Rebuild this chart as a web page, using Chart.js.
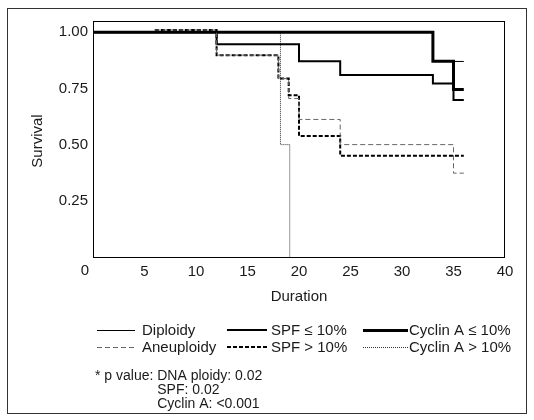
<!DOCTYPE html>
<html><head><meta charset="utf-8">
<script src="https://cdn.jsdelivr.net/npm/chart.js@4"></script>
<style>html,body{margin:0;padding:0;background:#fff}canvas{display:block}</style>
</head><body>
<canvas id="c" width="534" height="420"></canvas>
<script>
// ---- data ----
const xTickValues = [0, 5, 10, 15, 20, 25, 30, 35, 40];
const yTickValues = [0.25, 0.50, 0.75, 1.00];
const xTitle = 'Duration';
const yTitle = 'Survival';

const diploidyTime   = [0, 33, 36];
const diploidySurv   = [1.00, 0.87, 0.87];
const aneuploidyTime = [6, 12, 18, 19, 20, 24, 35, 36];
const aneuploidySurv = [1.01, 0.898, 0.794, 0.705, 0.612, 0.50, 0.373, 0.373];
const spfLowTime     = [0, 12, 20, 24, 33, 35, 36];
const spfLowSurv     = [1.00, 0.947, 0.871, 0.81, 0.772, 0.698, 0.698];
const spfHighTime    = [6, 12, 18, 19, 20, 24, 36];
const spfHighSurv    = [1.01, 0.898, 0.794, 0.72, 0.538, 0.45, 0.45];
const cyclinLowTime  = [0, 33, 35, 36];
const cyclinLowSurv  = [1.00, 0.871, 0.745, 0.745];
const cyclinHighTime = [0, 18.2, 19.1];
const cyclinHighSurv = [1.00, 0.50, 0.00];

const legendLabels = ['Diploidy', 'Aneuploidy', 'SPF ≤ 10%', 'SPF > 10%', 'Cyclin A ≤ 10%', 'Cyclin A > 10%'];
const pValueLines = ['* p value: ', 'DNA ploidy: 0.02', 'SPF: 0.02', 'Cyclin A: <0.001'];

// ---- styles ----
const FONT = "'Liberation Sans', Arial, sans-serif";
const TXT = '#1a1a1a';
const styles = [
  {color:'#000', width:1, dash:[]},          // Diploidy
  {color:'#666', width:1, dash:[5,3]},       // Aneuploidy
  {color:'#000', width:2, dash:[]},          // SPF <=
  {color:'#000', width:2, dash:[4,2]},       // SPF >
  {color:'#000', width:3, dash:[]},          // Cyclin <=
  {color:'#333', width:1, dash:[1,1]}        // Cyclin >
];
const pts = (t, s) => t.map((v, i) => ({x: v, y: s[i]}));
const seriesData = [
  pts(diploidyTime, diploidySurv),
  pts(aneuploidyTime, aneuploidySurv),
  pts(spfLowTime, spfLowSurv),
  pts(spfHighTime, spfHighSurv),
  pts(cyclinLowTime, cyclinLowSurv),
  pts(cyclinHighTime, cyclinHighSurv)
];

const datasets = seriesData.map((d, i) => ({
  label: legendLabels[i],
  data: d,
  stepped: true,
  borderColor: styles[i].color,
  borderWidth: styles[i].width,
  borderDash: styles[i].dash,
  pointRadius: 0,
  fill: false,
  borderCapStyle: 'butt',
  borderJoinStyle: 'miter'
}));

const decor = {
  id: 'decor',
  afterDraw(chart) {
    const ctx = chart.ctx;
    const a = chart.chartArea;
    ctx.save();
    // outer frame
    ctx.strokeStyle = '#333';
    ctx.lineWidth = 1;
    ctx.setLineDash([]);
    ctx.strokeRect(7.5, 8.5, 519, 405);
    // plot box
    ctx.strokeStyle = '#000';
    ctx.strokeRect(Math.round(a.left) + 0.5, Math.round(a.top) + 0.5,
                   Math.round(a.right - a.left) - 1, Math.round(a.bottom - a.top));
    // axis titles
    ctx.fillStyle = TXT;
    ctx.font = '15px ' + FONT;
    ctx.textAlign = 'center';
    ctx.textBaseline = 'middle';
    ctx.fillText(xTitle, (a.left + a.right) / 2, 297);
    ctx.save();
    ctx.translate(38, (a.top + a.bottom) / 2 + 2);
    ctx.rotate(-Math.PI / 2);
    ctx.fillText(yTitle, 0, 0);
    ctx.restore();
    // origin label
    ctx.fillText(String(xTickValues[0]), 85, 271);
    // legend
    const cols = [{x0:97, x1:135, tx:142}, {x0:227, x1:267, tx:271}, {x0:363, x1:408, tx:409}];
    const rows = [330, 347];
    ctx.textAlign = 'left';
    ctx.font = '15px ' + FONT;
    for (let i = 0; i < legendLabels.length; i++) {
      const c = cols[Math.floor(i / 2)], y = rows[i % 2];
      const st = styles[i];
      ctx.beginPath();
      ctx.strokeStyle = st.color;
      ctx.lineWidth = st.width;
      ctx.setLineDash(st.dash);
      const yy = st.width % 2 ? y + 0.5 : y;
      ctx.moveTo(c.x0, yy);
      ctx.lineTo(c.x1, yy);
      ctx.stroke();
      ctx.fillStyle = TXT;
      ctx.fillText(legendLabels[i], c.tx, y + 1);
    }
    // p values
    ctx.setLineDash([]);
    ctx.font = '14px ' + FONT;
    ctx.fillStyle = TXT;
    ctx.fillText(pValueLines[0], 95, 376);
    const ind = 95 + ctx.measureText(pValueLines[0]).width;
    ctx.fillText(pValueLines[1], ind, 376);
    ctx.fillText(pValueLines[2], ind, 390);
    ctx.fillText(pValueLines[3], ind, 404);
    ctx.restore();
  }
};

new Chart(document.getElementById('c'), {
  type: 'line',
  data: {datasets},
  options: {
    responsive: false,
    animation: false,
    devicePixelRatio: 1,
    layout: {padding: {left: 0, top: 21, right: 29, bottom: 123}},
    plugins: {legend: {display: false}, tooltip: {enabled: false}},
    scales: {
      x: {
        type: 'linear', min: 0, max: 40,
        afterBuildTicks: s => { s.ticks = xTickValues.map(v => ({value: v})); },
        afterFit: s => { s.height = 40; },
        grid: {display: false, drawTicks: false},
        border: {display: false},
        ticks: {padding: 6, color: TXT, font: {size: 15, family: FONT}, maxRotation: 0, autoSkip: false,
                callback: v => v === xTickValues[0] ? '' : String(v)}
      },
      y: {
        type: 'linear', min: 0, max: 1.05,
        afterBuildTicks: s => { s.ticks = yTickValues.map(v => ({value: v})); },
        afterFit: s => { s.width = 93; },
        grid: {display: false, drawTicks: false},
        border: {display: false},
        ticks: {padding: 5, color: TXT, font: {size: 15, family: FONT},
                callback: v => Number(v).toFixed(2)}
      }
    }
  },
  plugins: [decor]
});
</script>
</body></html>
